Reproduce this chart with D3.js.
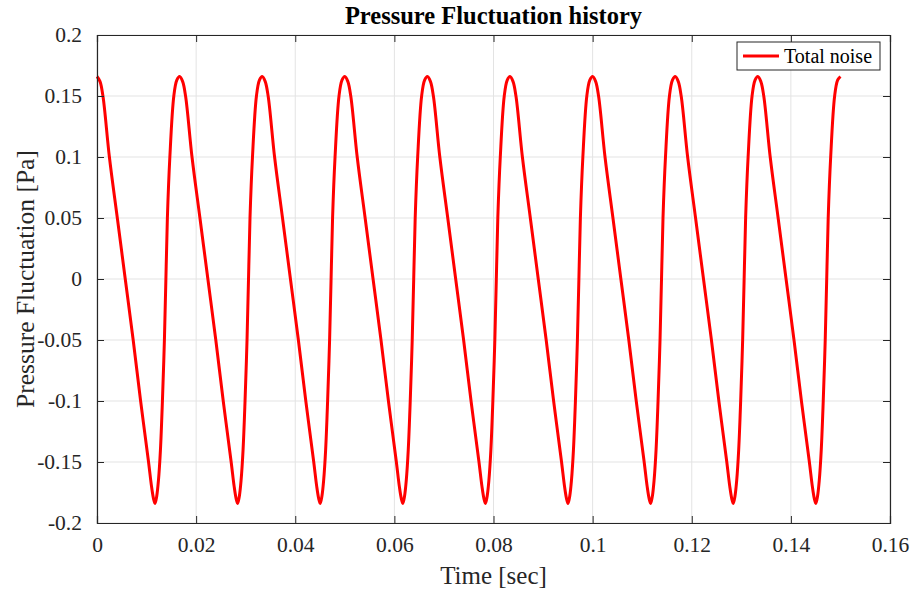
<!DOCTYPE html>
<html>
<head>
<meta charset="utf-8">
<script src="https://cdn.jsdelivr.net/npm/d3@7.9.0/dist/d3.min.js"></script>
<style>
  body { margin: 0; background: #fff; }
  svg text { font-family: "Liberation Serif", "Times New Roman", Times, serif; fill: #262626; }
</style>
</head>
<body>
<svg id="chart" width="916" height="596"></svg>
<script>
// sample times [sec], one line per cycle
const time = [
  0, 0.0006, 0.0012, 0.0025, 0.0041, 0.0057, 0.0073, 0.0088, 0.0104, 0.011, 0.0114, 0.0117, 0.01205, 0.0124, 0.0128, 0.0132, 0.0136, 0.0139, 0.0142, 0.0147, 0.0155, 0.0161,
  0.01667, 0.01727, 0.01787, 0.01917, 0.02077, 0.02237, 0.02397, 0.02547, 0.02707, 0.02767, 0.02807, 0.02837, 0.02872, 0.02907, 0.02947, 0.02987, 0.03027, 0.03057, 0.03087, 0.03137, 0.03217, 0.03277,
  0.03333, 0.03393, 0.03453, 0.03583, 0.03743, 0.03903, 0.04063, 0.04213, 0.04373, 0.04433, 0.04473, 0.04503, 0.04538, 0.04573, 0.04613, 0.04653, 0.04693, 0.04723, 0.04753, 0.04803, 0.04883, 0.04943,
  0.05, 0.0506, 0.0512, 0.0525, 0.0541, 0.0557, 0.0573, 0.0588, 0.0604, 0.061, 0.0614, 0.0617, 0.06205, 0.0624, 0.0628, 0.0632, 0.0636, 0.0639, 0.0642, 0.0647, 0.0655, 0.0661,
  0.06667, 0.06727, 0.06787, 0.06917, 0.07077, 0.07237, 0.07397, 0.07547, 0.07707, 0.07767, 0.07807, 0.07837, 0.07872, 0.07907, 0.07947, 0.07987, 0.08027, 0.08057, 0.08087, 0.08137, 0.08217, 0.08277,
  0.08333, 0.08393, 0.08453, 0.08583, 0.08743, 0.08903, 0.09063, 0.09213, 0.09373, 0.09433, 0.09473, 0.09503, 0.09538, 0.09573, 0.09613, 0.09653, 0.09693, 0.09723, 0.09753, 0.09803, 0.09883, 0.09943,
  0.1, 0.1006, 0.1012, 0.1025, 0.1041, 0.1057, 0.1073, 0.1088, 0.1104, 0.111, 0.1114, 0.1117, 0.11205, 0.1124, 0.1128, 0.1132, 0.1136, 0.1139, 0.1142, 0.1147, 0.1155, 0.1161,
  0.11667, 0.11727, 0.11787, 0.11917, 0.12077, 0.12237, 0.12397, 0.12547, 0.12707, 0.12767, 0.12807, 0.12837, 0.12872, 0.12907, 0.12947, 0.12987, 0.13027, 0.13057, 0.13087, 0.13137, 0.13217, 0.13277,
  0.13333, 0.13393, 0.13453, 0.13583, 0.13743, 0.13903, 0.14063, 0.14213, 0.14373, 0.14433, 0.14473, 0.14503, 0.14538, 0.14573, 0.14613, 0.14653, 0.14693, 0.14723, 0.14753, 0.14803, 0.14883, 0.14943,
  0.15
];

// pressure fluctuation [Pa], matching the times above
const pressure = [
  0.166, 0.162, 0.150, 0.100, 0.050, 0.000, -0.050, -0.100, -0.150, -0.170, -0.180, -0.184, -0.178, -0.165, -0.140, -0.100, -0.050, 0.000, 0.050, 0.100, 0.150, 0.163,
  0.166, 0.162, 0.150, 0.100, 0.050, 0.000, -0.050, -0.100, -0.150, -0.170, -0.180, -0.184, -0.178, -0.165, -0.140, -0.100, -0.050, 0.000, 0.050, 0.100, 0.150, 0.163,
  0.166, 0.162, 0.150, 0.100, 0.050, 0.000, -0.050, -0.100, -0.150, -0.170, -0.180, -0.184, -0.178, -0.165, -0.140, -0.100, -0.050, 0.000, 0.050, 0.100, 0.150, 0.163,
  0.166, 0.162, 0.150, 0.100, 0.050, 0.000, -0.050, -0.100, -0.150, -0.170, -0.180, -0.184, -0.178, -0.165, -0.140, -0.100, -0.050, 0.000, 0.050, 0.100, 0.150, 0.163,
  0.166, 0.162, 0.150, 0.100, 0.050, 0.000, -0.050, -0.100, -0.150, -0.170, -0.180, -0.184, -0.178, -0.165, -0.140, -0.100, -0.050, 0.000, 0.050, 0.100, 0.150, 0.163,
  0.166, 0.162, 0.150, 0.100, 0.050, 0.000, -0.050, -0.100, -0.150, -0.170, -0.180, -0.184, -0.178, -0.165, -0.140, -0.100, -0.050, 0.000, 0.050, 0.100, 0.150, 0.163,
  0.166, 0.162, 0.150, 0.100, 0.050, 0.000, -0.050, -0.100, -0.150, -0.170, -0.180, -0.184, -0.178, -0.165, -0.140, -0.100, -0.050, 0.000, 0.050, 0.100, 0.150, 0.163,
  0.166, 0.162, 0.150, 0.100, 0.050, 0.000, -0.050, -0.100, -0.150, -0.170, -0.180, -0.184, -0.178, -0.165, -0.140, -0.100, -0.050, 0.000, 0.050, 0.100, 0.150, 0.163,
  0.166, 0.162, 0.150, 0.100, 0.050, 0.000, -0.050, -0.100, -0.150, -0.170, -0.180, -0.184, -0.178, -0.165, -0.140, -0.100, -0.050, 0.000, 0.050, 0.100, 0.150, 0.163,
  0.166
];

const xTicks = [0, 0.02, 0.04, 0.06, 0.08, 0.1, 0.12, 0.14, 0.16];
const yTicks = [-0.2, -0.15, -0.1, -0.05, 0, 0.05, 0.1, 0.15, 0.2];
const seriesName = 'Total noise';

const margin = { left: 97, right: 26, top: 35, bottom: 73 };
const W = 916, H = 596;
const innerW = W - margin.left - margin.right;
const innerH = H - margin.top - margin.bottom;
const serif = '"Liberation Serif", "Times New Roman", Times, serif';

const svg = d3.select('#chart');
const g = svg.append('g').attr('transform', `translate(${margin.left},${margin.top})`);

const x = d3.scaleLinear().domain([0, 0.16]).range([0, innerW]);
const y = d3.scaleLinear().domain([-0.2, 0.2]).range([innerH, 0]);

// grid
g.append('g').selectAll('line').data(xTicks).join('line')
  .attr('x1', d => x(d)).attr('x2', d => x(d))
  .attr('y1', 0).attr('y2', innerH)
  .attr('stroke', '#e3e3e3').attr('stroke-width', 1);
g.append('g').selectAll('line').data(yTicks).join('line')
  .attr('x1', 0).attr('x2', innerW)
  .attr('y1', d => y(d)).attr('y2', d => y(d))
  .attr('stroke', '#e3e3e3').attr('stroke-width', 1);

// data line
const pts = time.map((t, i) => [t, pressure[i]]);
const line = d3.line()
  .x(d => x(d[0]))
  .y(d => y(d[1]))
  .curve(d3.curveCatmullRom.alpha(0.5));

g.append('path')
  .datum(pts)
  .attr('d', line)
  .attr('fill', 'none')
  .attr('stroke', '#ff0000')
  .attr('stroke-width', 3)
  .attr('stroke-linejoin', 'round');

// axes, ticks pointing inward on all four sides
const tickLen = 7;
const fmt = d => String(+d.toFixed(2));

const xAxis = g.append('g').attr('transform', `translate(0,${innerH})`)
  .call(d3.axisBottom(x).tickValues(xTicks).tickSize(-tickLen).tickPadding(14).tickFormat(fmt));
const xTop = g.append('g')
  .call(d3.axisTop(x).tickValues(xTicks).tickSize(-tickLen).tickFormat(''));
const yAxis = g.append('g')
  .call(d3.axisLeft(y).tickValues(yTicks).tickSize(-tickLen).tickPadding(15).tickFormat(fmt));
const yRight = g.append('g').attr('transform', `translate(${innerW},0)`)
  .call(d3.axisRight(y).tickValues(yTicks).tickSize(-tickLen).tickFormat(''));

[xAxis, xTop, yAxis, yRight].forEach(a => {
  a.attr('font-family', serif).attr('font-size', 21.5);
  a.select('.domain').attr('stroke', '#262626').attr('stroke-width', 1.2);
  a.selectAll('.tick line').attr('stroke', '#262626');
  a.selectAll('.tick text').attr('fill', '#262626');
});
xAxis.selectAll('.tick text').attr('dy', '0.71em');

// title and labels
svg.append('text')
  .attr('x', margin.left + innerW / 2).attr('y', 24)
  .attr('text-anchor', 'middle')
  .attr('font-size', 24.5).attr('font-weight', 'bold')
  .style('fill', '#000')
  .text('Pressure Fluctuation history');

svg.append('text')
  .attr('x', margin.left + innerW / 2).attr('y', 584)
  .attr('text-anchor', 'middle')
  .attr('font-size', 25)
  .text('Time [sec]');

svg.append('text')
  .attr('transform', `translate(34,${margin.top + innerH / 2}) rotate(-90)`)
  .attr('text-anchor', 'middle')
  .attr('font-size', 25.5)
  .text('Pressure Fluctuation [Pa]');

// legend
const leg = svg.append('g').attr('transform', 'translate(737,42)');
leg.append('rect')
  .attr('width', 143).attr('height', 28)
  .attr('fill', '#fff').attr('stroke', '#262626').attr('stroke-width', 1);
leg.append('line')
  .attr('x1', 6).attr('x2', 42).attr('y1', 14).attr('y2', 14)
  .attr('stroke', '#ff0000').attr('stroke-width', 3);
leg.append('text')
  .attr('x', 47).attr('y', 20.5)
  .attr('font-size', 20)
  .style('fill', '#000')
  .text(seriesName);
</script>
</body>
</html>
